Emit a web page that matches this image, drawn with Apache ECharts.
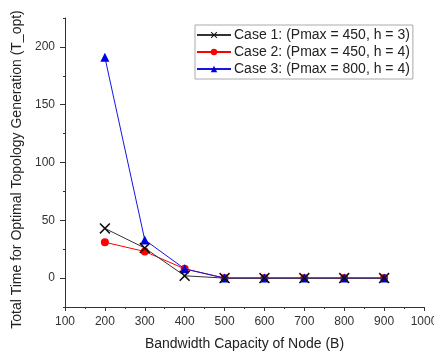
<!DOCTYPE html>
<html>
<head>
<meta charset="utf-8">
<script src="https://cdn.jsdelivr.net/npm/echarts@6/dist/echarts.min.js"></script>
<style>
  html, body { margin: 0; padding: 0; background: #fff; }
  #chart { width: 434px; height: 352px; }
</style>
</head>
<body>
<div id="chart"></div>
<script>
// Bandwidth capacity of a node (B)
const bandwidth = [200, 300, 400, 500, 600, 700, 800, 900];
// Total time for optimal topology generation per case
const case1 = [43, 26, 2, 0, 0, 0, 0, 0];
const case2 = [31, 23, 8, 0, 0, 0, 0, 0];
const case3 = [191, 33, 8, 0, 0, 0, 0, 0];
const seriesNames = [
  'Case 1: (Pmax = 450, h = 3)',
  'Case 2: (Pmax = 450, h = 4)',
  'Case 3: (Pmax = 800, h = 4)'
];
const yMajorTicks = [0, 50, 100, 150, 200];
const yMinorTicks = [-25, 25, 75, 125, 175, 225];

const FONT = '"Liberation Sans", Arial, sans-serif';
const AXIS_COLOR = '#333';
const crossPath = 'path://M0,1L1,0L5,4L9,0L10,1L6,5L10,9L9,10L5,6L1,10L0,9L4,5Z';

const pairs = vals => bandwidth.map((b, i) => [b, vals[i]]);

const chart = echarts.init(document.getElementById('chart'), null, { renderer: 'canvas' });

const baseY = {
  type: 'value',
  min: -25,
  max: 225,
  interval: 25,
  splitLine: { show: false }
};

chart.setOption({
  animation: false,
  backgroundColor: '#fff',
  textStyle: { fontFamily: FONT },
  grid: { left: 65, right: 10, top: 18, bottom: 45, containLabel: false, outerBoundsMode: 'none' },
  legend: {
    orient: 'vertical',
    left: 195,
    top: 25,
    padding: [3, 3, 3, 1],
    itemGap: 3,
    itemWidth: 34,
    itemHeight: 8,
    borderColor: '#aaa',
    borderWidth: 1,
    backgroundColor: '#fff',
    textStyle: { fontFamily: FONT, fontSize: 14, color: '#222', padding: [0, 0, 0, -2] },
    data: seriesNames
  },
  xAxis: {
    type: 'value',
    min: 100,
    max: 1000,
    interval: 100,
    name: 'Bandwidth Capacity of Node (B)',
    nameLocation: 'middle',
    nameGap: 30,
    nameTextStyle: { fontFamily: FONT, fontSize: 14, color: '#222' },
    axisLine: { onZero: false, lineStyle: { color: AXIS_COLOR, width: 1 } },
    axisTick: { show: true, inside: false, length: 4, lineStyle: { color: AXIS_COLOR } },
    minorTick: { show: true, splitNumber: 2, length: 2, lineStyle: { color: AXIS_COLOR } },
    axisLabel: { fontFamily: FONT, fontSize: 12, color: '#333', margin: 9, formatter: v => String(v) },
    splitLine: { show: false },
    minorSplitLine: { show: false }
  },
  yAxis: [
    Object.assign({}, baseY, {
      name: 'Total Time for Optimal Topology Generation (T_opt)',
      nameLocation: 'middle',
      nameGap: 36,
      nameRotate: 90,
      nameTextStyle: { fontFamily: FONT, fontSize: 14, color: '#222', padding: [0, 14, 0, 0] },
      axisLine: { show: true, onZero: false, lineStyle: { color: AXIS_COLOR, width: 1 } },
      axisTick: { show: true, length: 5, customValues: yMajorTicks, lineStyle: { color: AXIS_COLOR } },
      axisLabel: { fontFamily: FONT, fontSize: 12, color: '#333', margin: 10, customValues: yMajorTicks }
    }),
    Object.assign({}, baseY, {
      position: 'left',
      axisLine: { show: false },
      axisTick: { show: true, length: 2, customValues: yMinorTicks, lineStyle: { color: AXIS_COLOR } },
      axisLabel: { show: false }
    })
  ],
  series: [
    {
      name: seriesNames[0],
      type: 'line',
      data: pairs(case1),
      symbol: crossPath,
      symbolSize: 11,
      lineStyle: { color: '#333', width: 1 },
      itemStyle: { color: '#111' },
      z: 4
    },
    {
      name: seriesNames[1],
      type: 'line',
      data: pairs(case2),
      symbol: 'circle',
      symbolSize: 8,
      lineStyle: { color: '#f00', width: 1 },
      itemStyle: { color: '#f00' },
      z: 2
    },
    {
      name: seriesNames[2],
      type: 'line',
      data: pairs(case3),
      symbol: 'triangle',
      symbolSize: 9,
      lineStyle: { color: '#1515e6', width: 1 },
      itemStyle: { color: '#0000e0' },
      z: 3
    }
  ]
});
</script>
</body>
</html>
